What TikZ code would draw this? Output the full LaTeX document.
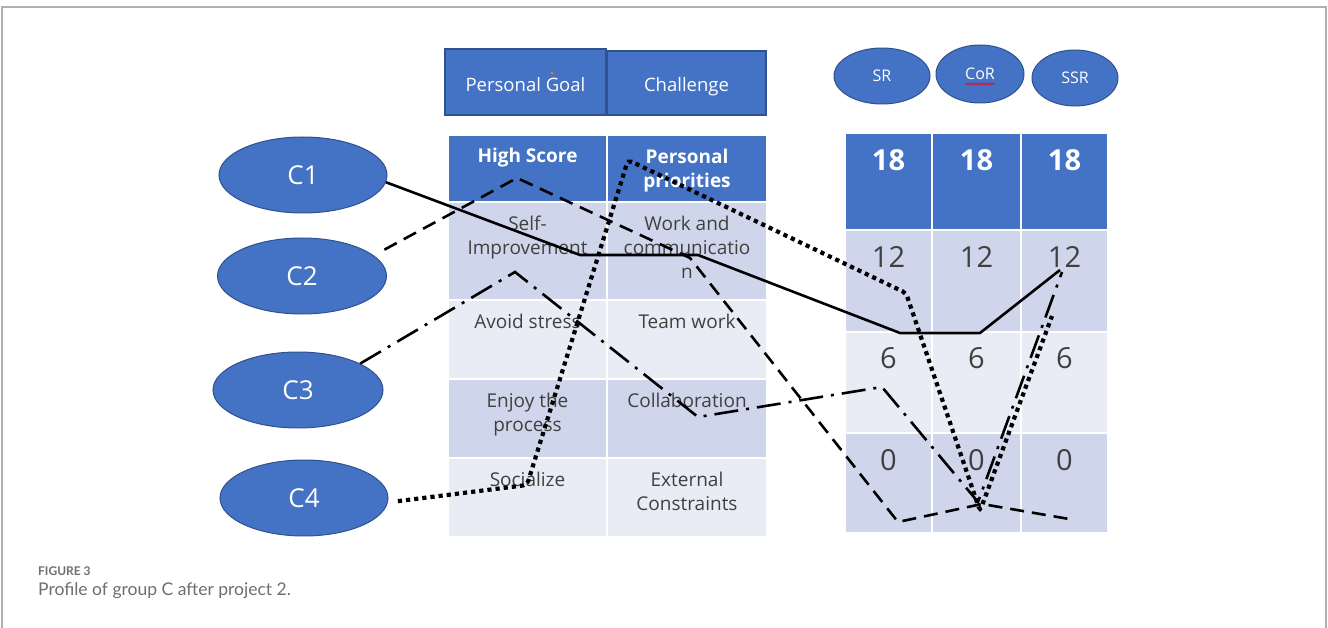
\documentclass[tikz,border=0pt]{standalone}
\usepackage{fontspec}
\setmainfont{Open Sans}
\newfontfamily\capfont{Lato}
\usetikzlibrary{shapes.geometric,decorations.pathmorphing}
\definecolor{hdrblue}{HTML}{4472C4}
\definecolor{edgeblue}{HTML}{2F528F}
\definecolor{rowdark}{HTML}{CFD5EA}
\definecolor{rowlight}{HTML}{E9EBF5}
\definecolor{celltext}{HTML}{404040}
\definecolor{framegray}{HTML}{B0B0B0}
\definecolor{captext}{HTML}{6E6E6E}
\newcommand\fsz[2]{\fontsize{#1}{#2}\selectfont}

\begin{document}
\begin{tikzpicture}[x=1pt,y=-1pt,
  cellbox/.style={rectangle,draw=white,line width=2pt,inner sep=0pt},
  hdrbox/.style={rectangle,draw=edgeblue,line width=1.2pt,fill=hdrblue,inner sep=0pt},
  oval/.style={ellipse,draw=edgeblue,line width=1pt,fill=hdrblue,inner sep=0pt,text=white},
  celltxt/.style={anchor=base,align=center,inner sep=0pt,text=celltext,font=\fsz{19}{24}},
  hdrtxt/.style={anchor=base,align=center,inner sep=0pt,text=white,font=\fsz{19}{24}\bfseries},
  numtxt/.style={anchor=base,inner sep=0pt,text=celltext,font=\fsz{29}{32}},
  numhdr/.style={anchor=base,inner sep=0pt,text=white,font=\fsz{29}{32}\bfseries},
  solidline/.style={line width=2.6pt,line join=round},
  dashline/.style={line width=2.6pt,dash pattern=on 14pt off 8pt},
  dashdotline/.style={line width=2.6pt,dash pattern=on 24pt off 8pt on 3pt off 8pt},
  dotline/.style={line width=4.2pt,dash pattern=on 4.2pt off 4pt,rounded corners=4pt}
]
\useasboundingbox (0,0) rectangle (1328,628);

% outer frame
\draw[framegray,line width=1.2pt] (2,628) -- (2,7) -- (1326,7) -- (1326,628);

% column headings
\node[hdrbox,minimum width=161pt,minimum height=66pt] (hgoal) at (525.5,82) {};
\node[hdrbox,minimum width=159pt,minimum height=64pt] (hchal) at (686.5,83) {};
\node[anchor=base,inner sep=0pt,text=white,font=\fsz{18.5}{24}] (hgoalt) at (hgoal.center |- 0,92) {Personal Goal};
\node[anchor=base,inner sep=0pt,text=white,font=\fsz{18.5}{24}] (hchalt) at (hchal.center |- 0,92) {Challenge};
\fill[orange] (552,73) circle (1.4pt);

\node[oval,minimum width=96pt,minimum height=56pt,font=\fsz{16}{18}] (sr) at (882,76) {SR};
\node[oval,minimum width=88pt,minimum height=58pt,font=\fsz{16}{18}] (cor) at (980,74) {CoR};
\node[oval,minimum width=86pt,minimum height=56pt,font=\fsz{16}{18}] (ssr) at (1075,78) {SSR};
\draw[red,line width=0.7pt,decorate,decoration={snake,amplitude=0.9pt,segment length=3pt}] (965,84) -- (995,84);

% left table: goals and challenges
\node[cellbox,fill=hdrblue,minimum width=159pt,minimum height=67pt] (l01) at (527.5,168.5) {};
\node[cellbox,fill=hdrblue,minimum width=160pt,minimum height=67pt] (l02) at (687,168.5) {};
\node[cellbox,fill=rowdark,minimum width=159pt,minimum height=98pt] (l11) at (527.5,251) {};
\node[cellbox,fill=rowdark,minimum width=160pt,minimum height=98pt] (l12) at (687,251) {};
\node[cellbox,fill=rowlight,minimum width=159pt,minimum height=79pt] (l21) at (527.5,339.5) {};
\node[cellbox,fill=rowlight,minimum width=160pt,minimum height=79pt] (l22) at (687,339.5) {};
\node[cellbox,fill=rowdark,minimum width=159pt,minimum height=79pt] (l31) at (527.5,418.5) {};
\node[cellbox,fill=rowdark,minimum width=160pt,minimum height=79pt] (l32) at (687,418.5) {};
\node[cellbox,fill=rowlight,minimum width=159pt,minimum height=79pt] (l41) at (527.5,497.5) {};
\node[cellbox,fill=rowlight,minimum width=160pt,minimum height=79pt] (l42) at (687,497.5) {};

% multi-line labels sit on the baseline of their last line
\node[hdrtxt] (t01) at (527.5,163) {High Score};
\node[hdrtxt] (t02) at (687,188) {Personal\\priorities};
\node[celltxt] (t11) at (527.5,255) {Self-\\Improvement};
\node[celltxt] (t12) at (687,279) {Work and\\communicatio\\n};
\node[celltxt] (t21) at (527.5,328) {Avoid stress};
\node[celltxt] (t22) at (687,328) {Team work};
\node[celltxt] (t31) at (527.5,431) {Enjoy the\\process};
\node[celltxt] (t32) at (687,407) {Collaboration};
\node[celltxt] (t41) at (527.5,486) {Socialize};
\node[celltxt] (t42) at (687,510) {External\\Constraints};

% right table: scores
\foreach \c/\x/\w in {1/888.5/87,2/976.5/89,3/1064.5/87}{
  \node[cellbox,fill=hdrblue,minimum width=\w pt,minimum height=97pt] (r0\c) at (\x,181.5) {};
  \node[cellbox,fill=rowdark,minimum width=\w pt,minimum height=102pt] (r1\c) at (\x,281) {};
  \node[cellbox,fill=rowlight,minimum width=\w pt,minimum height=101pt] (r2\c) at (\x,382.5) {};
  \node[cellbox,fill=rowdark,minimum width=\w pt,minimum height=100pt] (r3\c) at (\x,483) {};
  \node[numhdr] (n0\c) at (\x,171) {18};
  \node[numtxt] (n1\c) at (\x,268) {12};
  \node[numtxt] (n2\c) at (\x,368) {6};
  \node[numtxt] (n3\c) at (\x,470) {0};
}

% group members
\node[oval,minimum width=168pt,minimum height=76pt,font=\fsz{26}{30}] (c1) at (303,175) {C1};
\node[oval,minimum width=169pt,minimum height=76pt,font=\fsz{26}{30}] (c2) at (302,276) {C2};
\node[oval,minimum width=170pt,minimum height=76pt,font=\fsz{26}{30}] (c3) at (298,390) {C3};
\node[oval,minimum width=168pt,minimum height=76pt,font=\fsz{26}{30}] (c4) at (304,498) {C4};

% profile of C1
\coordinate (p1a) at (580,255);
\coordinate (p1b) at (698,255);
\coordinate (p1c) at (900,333);
\coordinate (p1d) at (980,333);
\coordinate (p1e) at (1060,270);
\draw[solidline] (c1.-5) -- (p1a) -- (p1b) -- (p1c) -- (p1d) -- (p1e);

% profile of C2
\coordinate (p2a) at (517,178);
\coordinate (p2b) at (690,258);
\coordinate (p2c) at (898,522);
\coordinate (p2d) at (982,504);
\coordinate (p2e) at (1075,520);
\draw[dashline,shorten <=12pt] (c2.16) -- (p2a) -- (p2b) -- (p2c) -- (p2d) -- (p2e);

% profile of C3
\coordinate (p3a) at (515,272);
\coordinate (p3b) at (698,417);
\coordinate (p3c) at (882,387);
\coordinate (p3d) at (978,502);
\coordinate (p3e) at (1062,272);
\draw[dashdotline] (c3.23) -- (p3a) -- (p3b) -- (p3c) -- (p3d) -- (p3e);

% profile of C4
\coordinate (p4a) at (527,485);
\coordinate (p4b) at (628,160);
\coordinate (p4c) at (906,293);
\coordinate (p4d) at (980,511);
\coordinate (p4e) at (1052,316);
\draw[dotline,shorten <=10pt] (c4.-3) -- (p4a) -- (p4b) -- (p4c) -- (p4d) -- (p4e);

% caption
\node[anchor=base west,inner sep=0pt,text=captext,font=\capfont\fsz{12}{14}\bfseries] (figno) at (38,575) {FIGURE 3};
\node[anchor=base west,inner sep=0pt,text=captext,font=\capfont\fsz{17.5}{20}] (figcap) at (38,595) {Profile of group C after project 2.};
\end{tikzpicture}
\end{document}
